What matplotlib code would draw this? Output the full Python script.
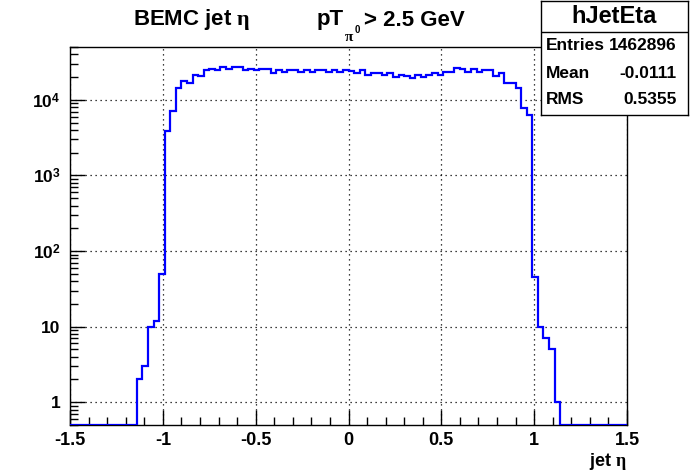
import numpy as np
import matplotlib
matplotlib.use('Agg')
import matplotlib.pyplot as plt
from matplotlib.ticker import FixedLocator, LogLocator, NullFormatter, FuncFormatter

plt.rcParams['font.family'] = ['Liberation Sans', 'DejaVu Sans']
plt.rcParams['font.weight'] = 'bold'
plt.rcParams['mathtext.fontset'] = 'custom'
plt.rcParams['mathtext.rm'] = 'Liberation Serif'
plt.rcParams['mathtext.bf'] = 'Liberation Sans:bold'
plt.rcParams['mathtext.it'] = 'Liberation Serif:italic'

# histogram hJetEta: 100 bins from -1.5 to 1.5
eta_min, eta_max, n_bins = -1.5, 1.5, 100
left_zero = [0] * 12
counts_mid = [2, 3, 10, 12, 50, 3900, 7100, 14500, 17500, 16900,
              21400, 20400, 24500, 25700, 24500, 26800, 25600, 27400, 26800, 24700,
              25900, 24700, 25200, 25200, 22600, 25000, 23000, 24500, 24500, 23000,
              24900, 23200, 24900, 24900, 23000, 24900, 23000, 24500, 24000, 22600,
              24500, 21400, 22600, 22600, 21000, 22600, 19800, 21400, 20800, 19400,
              21000, 19800, 21400, 22600, 21400, 23200, 23000, 26300, 25700, 23700,
              25700, 23700, 24900, 24500, 20400, 22600, 16900, 16900, 14500, 7700,
              6300, 45, 10, 7, 5, 1]
right_zero = [0] * 12
counts = np.array(left_zero + counts_mid + right_zero, dtype=float)

stat_names = ['Entries', 'Mean', 'RMS']
stat_values = ['1462896', '-0.0111', '0.5355']
x_ticks = [-1.5, -1, -0.5, 0, 0.5, 1, 1.5]
x_ticklabels = ['-1.5', '-1', '-0.5', '0', '0.5', '1', '1.5']

ymin, ymax = 0.5, 5.0e4

fig = plt.figure(figsize=(6.96, 4.74), dpi=100)
ax = fig.add_axes([70 / 696, 1 - 425 / 474, 557 / 696, 378 / 474])

edges = np.linspace(eta_min, eta_max, n_bins + 1)
# empty bins are drawn on the frame bottom like ROOT does
shown = np.where(counts > 0, counts, ymin)
ax.stairs(shown, edges, baseline=None, color='#0000ff', linewidth=1.6, zorder=3)

ax.set_yscale('log')
ax.set_xlim(eta_min, eta_max)
ax.set_ylim(ymin, ymax)

ax.xaxis.set_major_locator(FixedLocator(x_ticks))
ax.set_xticklabels(x_ticklabels)
ax.xaxis.set_minor_locator(FixedLocator(np.round(np.arange(-1.5, 1.51, 0.1), 2)))


def ylab(v, pos):
    if v == 1:
        return '1'
    if v == 10:
        return '10'
    return r'10$^{\mathbf{%d}}$' % int(round(np.log10(v)))


ax.yaxis.set_major_locator(LogLocator(base=10, numticks=10))
ax.yaxis.set_major_formatter(FuncFormatter(ylab))
ax.yaxis.set_minor_locator(LogLocator(base=10, subs=np.arange(2, 10), numticks=20))
ax.yaxis.set_minor_formatter(NullFormatter())

ax.tick_params(axis='both', which='both', direction='in', top=False, right=False)
ax.tick_params(axis='x', which='major', length=11, width=1, labelsize=13, pad=5)
ax.tick_params(axis='x', which='minor', length=6, width=1)
ax.tick_params(axis='y', which='major', length=11, width=1, labelsize=12.5, pad=7)
ax.tick_params(axis='y', which='minor', length=6, width=1)

ax.grid(True, which='major', color='black', linestyle=(0, (1, 3)), linewidth=0.9)
for s in ax.spines.values():
    s.set_linewidth(1.0)

# axis title
fig.text(627 / 696, 1 - 461 / 474, r'jet $\mathrm{\eta}$', ha='right', va='center',
         fontsize=13, fontweight='bold')

# titles
fig.text(192 / 696, 1 - 19 / 474, r'BEMC jet $\mathrm{\eta}$', ha='center', va='center',
         fontsize=16, fontweight='bold')
fig.text(317 / 696, 1 - 20 / 474, 'pT', ha='left', va='center', fontsize=16, fontweight='bold')
fig.text(344 / 696, 1 - 37 / 474, r'$\mathrm{\pi}$', ha='left', va='center', fontsize=11)
fig.text(355 / 696, 1 - 30 / 474, '0', ha='left', va='center', fontsize=7, fontweight='bold')
fig.text(364 / 696, 1 - 20 / 474, '> 2.5 GeV', ha='left', va='center', fontsize=16, fontweight='bold')

# stats box
sb = fig.add_axes([541 / 696, 1 - 115 / 474, 147 / 696, 114 / 474], zorder=5)
sb.set_xticks([])
sb.set_yticks([])
sb.set_xlim(0, 1)
sb.set_ylim(0, 1)
sb.set_facecolor('white')
for s in sb.spines.values():
    s.set_linewidth(1.0)
sep = (115 - 32) / 114
sb.axhline(sep, color='black', linewidth=1.0)
sb.text(0.5, (115 - 16) / 114, 'hJetEta', ha='center', va='center', fontsize=17, fontweight='bold')
row_y = [46, 73, 100]
for name, val, yy in zip(stat_names, stat_values, row_y):
    sb.text(5 / 147, (115 - yy) / 114, name, ha='left', va='center', fontsize=12.5, fontweight='bold')
    sb.text(136 / 147, (115 - yy) / 114, val, ha='right', va='center', fontsize=12.5, fontweight='bold')

fig.savefig('out.png', dpi=100)
